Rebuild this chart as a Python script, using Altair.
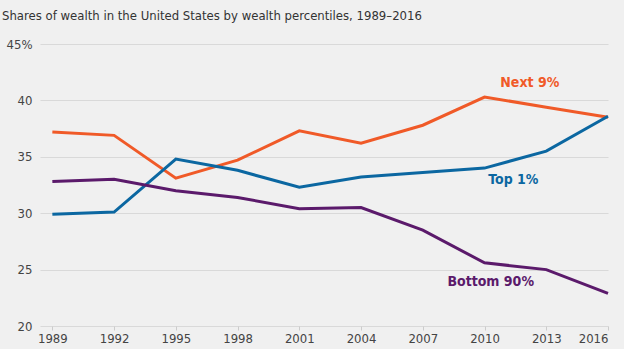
import altair as alt
import pandas as pd

years = [1989, 1992, 1995, 1998, 2001, 2004, 2007, 2010, 2013, 2016]
next9 = [37.2, 36.9, 33.1, 34.7, 37.3, 36.2, 37.8, 40.3, 39.4, 38.5]
top1 = [29.9, 30.1, 34.8, 33.8, 32.3, 33.2, 33.6, 34.0, 35.5, 38.6]
bottom90 = [32.8, 33.0, 32.0, 31.4, 30.4, 30.5, 28.5, 25.6, 25.0, 22.9]

series_names = ["Next 9%", "Top 1%", "Bottom 90%"]
series_colors = ["#f05a28", "#0b67a1", "#5b1a6b"]
label_year = [2012.2, 2011.4, 2010.3]
label_value = [41.5, 32.9, 23.9]

rows = []
for name, vals in zip(series_names, [next9, top1, bottom90]):
    for y, v in zip(years, vals):
        rows.append({"year": y, "share": v, "group": name})
df = pd.DataFrame(rows)
labels = pd.DataFrame({"group": series_names, "year": label_year, "share": label_value})

FONT = "DejaVu Sans Condensed, Liberation Sans Narrow, Roboto"

xscale = alt.Scale(domain=[1988.4, 2016.0], nice=False, zero=False)
yscale = alt.Scale(domain=[20, 45], nice=False, zero=False)
cscale = alt.Scale(domain=series_names, range=series_colors)

lines = alt.Chart(df).mark_line(strokeWidth=3).encode(
    x=alt.X("year:Q", scale=xscale,
            axis=alt.Axis(values=years, format="d", title=None, grid=False, domain=False,
                          tickColor="#cccccc", tickSize=4, labelColor="#444444",
                          labelFontSize=13, labelFont=FONT, labelPadding=2)),
    y=alt.Y("share:Q", scale=yscale,
            axis=alt.Axis(values=[20, 25, 30, 35, 40, 45], title=None, domain=False, ticks=False,
                          gridColor="#d9d9d9", labelColor="#444444", labelFontSize=13,
                          labelFont=FONT, labelPadding=8,
                          labelExpr="datum.value == 45 ? '45%' : datum.label")),
    color=alt.Color("group:N", scale=cscale, legend=None),
)

texts = alt.Chart(labels).mark_text(fontSize=14, fontWeight="bold", font=FONT).encode(
    x=alt.X("year:Q", scale=xscale),
    y=alt.Y("share:Q", scale=yscale),
    text="group:N",
    color=alt.Color("group:N", scale=cscale, legend=None),
)

chart = alt.layer(lines, texts).properties(
    width=568, height=282,
    autosize=alt.AutoSizeParams(type="none"),
    padding={"left": 40, "top": 44, "right": 16, "bottom": 23},
    background="#f0f0f0",
    title=alt.TitleParams(
        "Shares of wealth in the United States by wealth percentiles, 1989–2016",
        anchor="start", frame="bounds", dx=-4, offset=5, fontSize=13,
        fontWeight="normal", font=FONT, color="#333333", baseline="alphabetic",
    ),
).configure_view(stroke=None)

chart.save("out.html", embed_options={"renderer": "svg", "actions": False})
